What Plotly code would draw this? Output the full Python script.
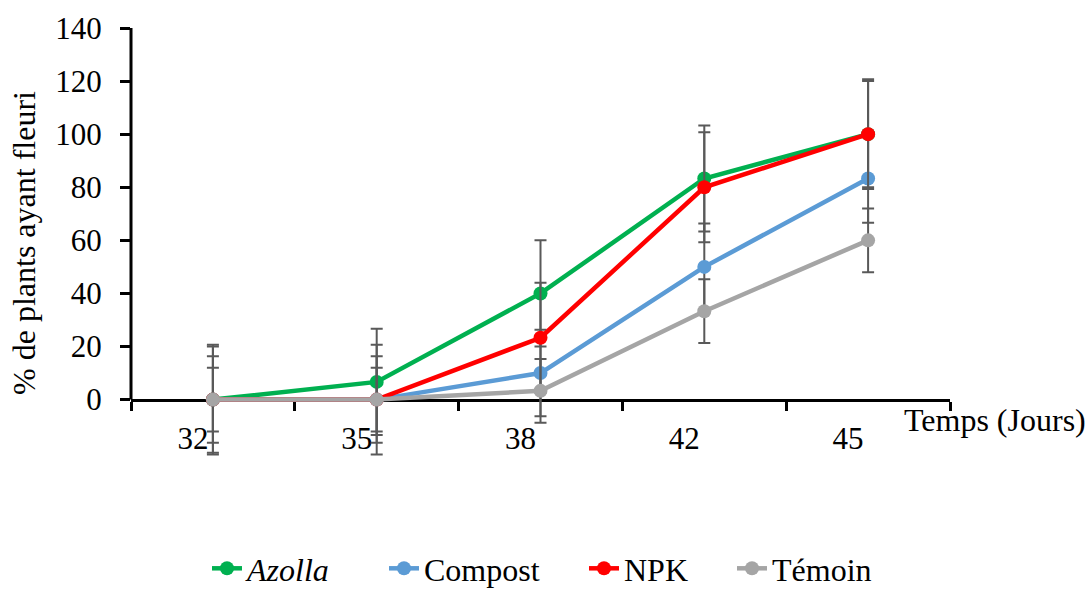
import plotly.graph_objects as go

# Flowering over time per fertilisation treatment
days = ["32", "35", "38", "42", "45"]

azolla = [0, 6.67, 40, 83.3, 100]
compost = [0, 0, 10, 50, 83.3]
npk = [0, 0, 23.3, 80, 100]
temoin = [0, 0, 3.3, 33.3, 60]

azolla_err = [20, 20, 20, 20, 20]
compost_err = [16.3, 16.3, 16.3, 16.3, 16.7]
npk_err = [20.7, 20.7, 20.7, 20.7, 20.7]
temoin_err = [12, 12, 12, 12, 12]

y_ticks = [0, 20, 40, 60, 80, 100, 120, 140]

series = [
    ("<i>Azolla</i>", azolla, azolla_err, "#00B050", 132),
    ("Compost", compost, compost_err, "#5B9BD5", 155),
    ("NPK", npk, npk_err, "#FF0000", 103),
    ("Témoin", temoin, temoin_err, "#A5A5A5", None),
]

FONT = "Liberation Serif"
TICK_SIZE = 31
TEXT_SIZE = 32
Y_MIN, Y_MAX = -22, 140  # room below zero so the lower whiskers stay visible

fig = go.Figure()
for name, vals, err, color, lw in series:
    fig.add_trace(go.Scatter(
        x=days, y=vals, name=name, mode="lines+markers",
        line=dict(color=color, width=4.5),
        marker=dict(color=color, size=14),
        error_y=dict(type="data", array=err, visible=True,
                     color="#595959", thickness=2, width=6),
        cliponaxis=False,
        legendwidth=lw,
    ))

zero_frac = (0 - Y_MIN) / (Y_MAX - Y_MIN)

fig.update_layout(
    width=1092, height=590,
    margin=dict(l=131, r=142, t=28, b=132, autoexpand=False),
    paper_bgcolor="white", plot_bgcolor="white",
    font=dict(family=FONT, size=TICK_SIZE, color="black"),
    showlegend=True,
    legend=dict(orientation="h", x=0.0928, xanchor="left",
                y=-0.257, yanchor="middle",
                font=dict(family=FONT, size=TEXT_SIZE, color="black"),
                tracegroupgap=0, borderwidth=0,
                bgcolor="rgba(0,0,0,0)"),
    xaxis=dict(
        type="category", range=[-0.5, 4.5],
        anchor="free", position=zero_frac,
        showline=True, linecolor="black", linewidth=3,
        ticks="outside", ticklen=9, tickwidth=3, tickcolor="black",
        tickson="boundaries", showgrid=False, zeroline=False,
        ticklabelshift=-20, ticklabelstandoff=10,
        tickfont=dict(family=FONT, size=TICK_SIZE, color="black"),
        layer="below traces",
    ),
    yaxis=dict(
        range=[Y_MIN, Y_MAX], tickvals=y_ticks,
        showline=False,
        ticks="outside", ticklen=10, tickwidth=3, tickcolor="black",
        showgrid=False, zeroline=False,
        ticklabelstandoff=12,
        tickfont=dict(family=FONT, size=TICK_SIZE, color="black"),
        title=dict(text="% de plants ayant fleuri",
                   font=dict(family=FONT, size=TEXT_SIZE, color="black"),
                   standoff=10),
        layer="below traces",
    ),
    shapes=[dict(
        type="line", xref="paper", yref="y",
        x0=0, x1=0, y0=0, y1=Y_MAX,
        line=dict(color="black", width=3), layer="below",
    )],
    annotations=[dict(
        text="Temps (Jours)", xref="paper", yref="y",
        x=0.942, y=-7.5, xanchor="left", yanchor="middle",
        showarrow=False, font=dict(family=FONT, size=TEXT_SIZE, color="black"),
    )],
)

fig.write_html("out.html")
